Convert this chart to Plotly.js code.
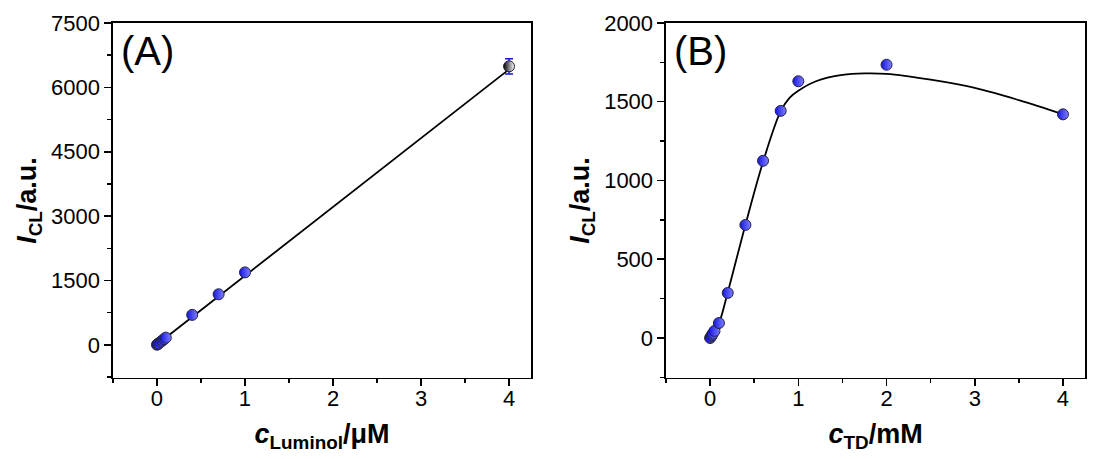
<!DOCTYPE html>
<html>
<head>
<meta charset="utf-8">
<script src="https://cdn.plot.ly/plotly-3.0.1.min.js"></script>
<style>html,body{margin:0;padding:0;background:#fff;}#chart{width:1099px;height:459px;}</style>
</head>
<body>
<div id="chart"></div>
<script>
// Panel A: luminol concentration (µM) vs CL intensity
const lumX = [0, 0.01, 0.02, 0.04, 0.06, 0.08, 0.1, 0.4, 0.7, 1, 4];
const lumY = [5, 20, 35, 70, 100, 135, 170, 700, 1180, 1690, 6490];
const lumErr = [5, 5, 8, 8, 10, 10, 12, 20, 25, 30, 180];
const lumFitX = [0, 4];
const lumFitY = [10, 6420];

// Panel B: TD concentration (mM) vs CL intensity
const tdX = [0, 0.01, 0.02, 0.03, 0.05, 0.1, 0.2, 0.4, 0.6, 0.8, 1, 2, 4];
const tdY = [0, 8, 18, 28, 45, 95, 286, 718, 1125, 1442, 1630, 1735, 1420];
const tdErr = [3, 3, 3, 3, 4, 6, 8, 10, 12, 12, 14, 14, 12];
const tdCurveX = [0, 0.1, 0.2, 0.4, 0.6, 0.8, 0.9, 1.0, 1.2, 1.5, 1.75, 2, 2.5, 3, 3.5, 4];
const tdCurveY = [0, 95, 290, 718, 1118, 1440, 1525, 1570, 1630, 1670, 1680, 1677, 1640, 1588, 1510, 1420];

const fontFam = '"Liberation Sans", Arial, sans-serif';
const blue = '#1515e0';

function markerFor(n, lastDark) {
  const colors = [], grads = [];
  for (let i = 0; i < n; i++) {
    const dark = lastDark && i === n - 1;
    colors.push(dark ? '#000000' : blue);
    grads.push(dark ? '#ffffff' : '#8080ff');
  }
  return {
    symbol: 'circle', size: 11, color: colors,
    gradient: {type: 'horizontal', color: grads},
    line: {color: '#222244', width: 1}
  };
}

const traces = [
  {x: lumFitX, y: lumFitY, mode: 'lines', line: {color: '#000', width: 1.8}, xaxis: 'x', yaxis: 'y', hoverinfo: 'skip'},
  {x: lumX, y: lumY, mode: 'markers', marker: markerFor(lumX.length, true),
   error_y: {type: 'data', array: lumErr, color: blue, thickness: 1.5, width: 4},
   xaxis: 'x', yaxis: 'y'},
  {x: tdCurveX, y: tdCurveY, mode: 'lines', line: {color: '#000', width: 1.8, shape: 'spline', smoothing: 1}, xaxis: 'x2', yaxis: 'y2', hoverinfo: 'skip'},
  {x: tdX, y: tdY, mode: 'markers', marker: markerFor(tdX.length, false),
   error_y: {type: 'data', array: tdErr, color: blue, thickness: 1.5, width: 4},
   xaxis: 'x2', yaxis: 'y2'}
];

const axCommon = {
  showline: true, linecolor: '#000', linewidth: 1.5, mirror: true,
  ticks: 'outside', ticklen: 7, tickwidth: 1.5, tickcolor: '#000',
  showgrid: false, zeroline: false,
  tickfont: {family: fontFam, size: 22, color: '#000'},
  minor: {ticks: 'outside', ticklen: 4, tickwidth: 1.5, tickcolor: '#000'}
};
const titleFont = {family: fontFam, size: 27, color: '#000'};

const layout = {
  width: 1099, height: 459,
  margin: {l: 0, r: 0, t: 0, b: 0},
  paper_bgcolor: '#fff', plot_bgcolor: '#fff',
  showlegend: false,
  xaxis: Object.assign({}, axCommon, {
    domain: [0.1028, 0.4832], range: [-0.5, 4.25], dtick: 1, tick0: 0,
    ticklabelstandoff: -7,
    minor: Object.assign({}, axCommon.minor, {dtick: 0.5}),
    title: {text: '<b><i>c</i><sub>Luminol</sub>/μM</b>', font: titleFont, standoff: 14}
  }),
  yaxis: Object.assign({}, axCommon, {
    domain: [0.1765, 0.9499], range: [-770, 7500], dtick: 1500, tick0: 0,
    minor: Object.assign({}, axCommon.minor, {dtick: 750}),
    title: {text: '<b><i>I</i><sub>CL</sub>/a.u.</b>', font: titleFont, standoff: 6}
  }),
  xaxis2: Object.assign({}, axCommon, {
    domain: [0.606, 0.9873], range: [-0.5, 4.25], dtick: 1, tick0: 0, anchor: 'y2',
    ticklabelstandoff: -7,
    minor: Object.assign({}, axCommon.minor, {dtick: 0.5}),
    title: {text: '<b><i>c</i><sub>TD</sub>/mM</b>', font: titleFont, standoff: 14}
  }),
  yaxis2: Object.assign({}, axCommon, {
    domain: [0.1765, 0.9499], range: [-254, 2000], dtick: 500, tick0: 0, anchor: 'x2',
    minor: Object.assign({}, axCommon.minor, {dtick: 250}),
    title: {text: '<b><i>I</i><sub>CL</sub>/a.u.</b>', font: titleFont, standoff: 6}
  }),
  annotations: [
    {text: '(A)', xref: 'x domain', yref: 'y domain', x: 0.015, y: 0.99, xanchor: 'left', yanchor: 'top', showarrow: false, font: {family: fontFam, size: 40, color: '#000'}},
    {text: '(B)', xref: 'x2 domain', yref: 'y2 domain', x: 0.015, y: 0.99, xanchor: 'left', yanchor: 'top', showarrow: false, font: {family: fontFam, size: 40, color: '#000'}}
  ]
};

Plotly.newPlot('chart', traces, layout, {staticPlot: true, displayModeBar: false});
</script>
</body>
</html>
